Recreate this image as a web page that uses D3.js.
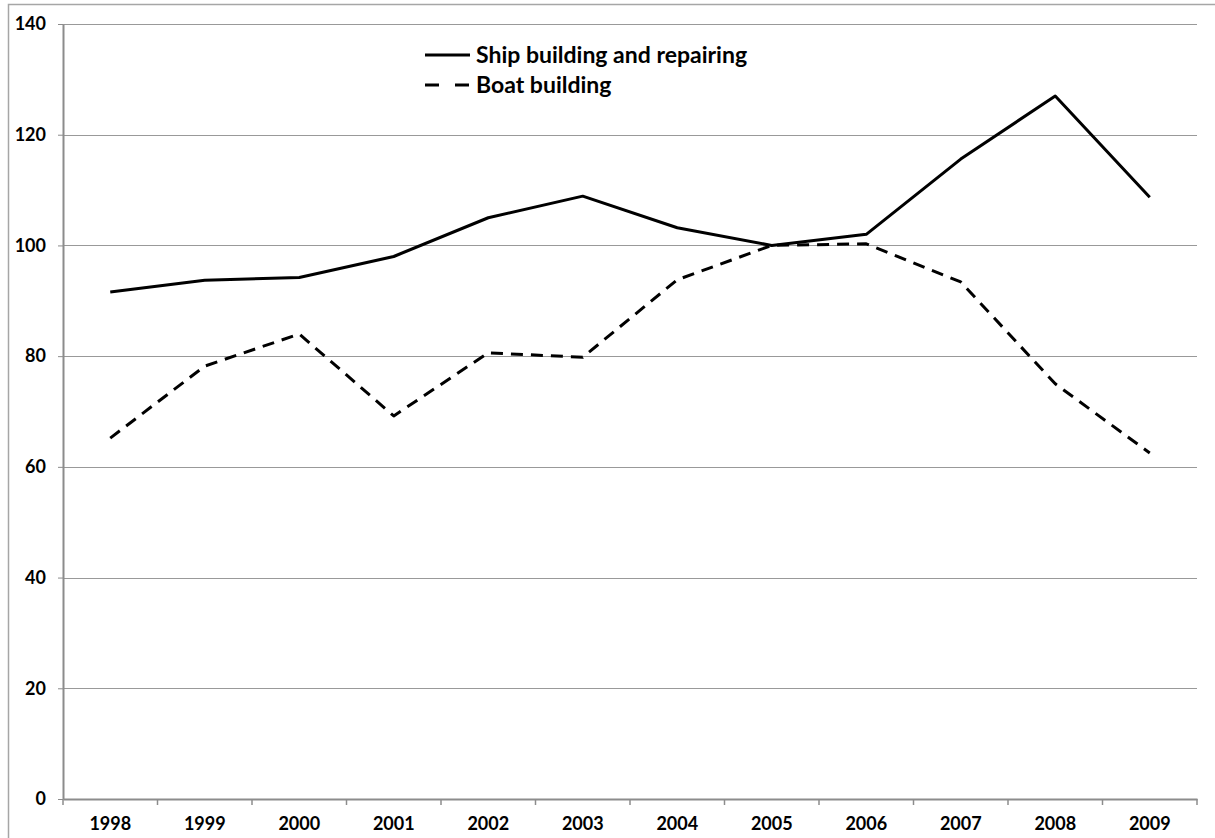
<!DOCTYPE html>
<html>
<head>
<meta charset="utf-8">
<script src="https://cdn.jsdelivr.net/npm/d3@7"></script>
<style>
  body { margin: 0; background: #fff; }
  svg { display: block; font-family: Lato, "Open Sans", sans-serif; font-weight: bold; }
</style>
</head>
<body>
<div class="svg"></div>
<script>
var years = ["1998", "1999", "2000", "2001", "2002", "2003", "2004", "2005", "2006", "2007", "2008", "2009"];
var shipBuilding = [91.6, 93.7, 94.2, 98.0, 105.0, 108.9, 103.2, 100.0, 102.0, 115.6, 127.0, 108.7];
var boatBuilding = [65.2, 78.2, 84.0, 69.2, 80.6, 79.8, 93.8, 100.0, 100.3, 93.4, 75.0, 62.5];
var yTicks = [0, 20, 40, 60, 80, 100, 120, 140];

var series = [
  {name: "Ship building and repairing", values: shipBuilding, dash: null},
  {name: "Boat building", values: boatBuilding, dash: "12,8"}
];

var svgW = 1215, svgH = 838,
  margin = {top: 24, right: 18, bottom: 39, left: 63},
  width = svgW - margin.left - margin.right,
  height = svgH - margin.top - margin.bottom;

var svg = d3.select(".svg").append("svg")
  .attr("width", svgW)
  .attr("height", svgH);

// Outer chart border
svg.append("path")
  .attr("d", "M8.5," + svgH + "V4.5H" + svgW)
  .attr("fill", "none")
  .attr("stroke", "#a6a6a6")
  .attr("stroke-width", 1.5);

var g = svg.append("g")
  .attr("transform", "translate(" + margin.left + "," + margin.top + ")");

var xScale = d3.scaleBand().domain(years).range([0, width]),
  yScale = d3.scaleLinear().domain([0, 140]).range([height, 0]);

// Gridlines
g.append("g")
  .selectAll("line")
  .data(yTicks.filter(d => d > 0)).enter().append("line")
    .attr("x1", 0)
    .attr("x2", width)
    .attr("y1", d => Math.round(yScale(d)) + 0.5)
    .attr("y2", d => Math.round(yScale(d)) + 0.5)
    .attr("stroke", "#999")
    .attr("stroke-width", 1);

// Y axis
var yAxis = g.append("g")
  .call(d3.axisLeft(yScale).tickValues(yTicks).tickSize(5).tickPadding(12).tickSizeOuter(0));
yAxis.select(".domain").attr("stroke", "#8c8c8c").attr("stroke-width", 2);
yAxis.selectAll(".tick line").attr("stroke", "#8c8c8c");
yAxis.selectAll(".tick text")
  .attr("fill", "#000")
  .style("font-size", "18px")
  .style("font-family", "Lato, sans-serif")
  .style("font-weight", "bold");

// X axis with ticks on band edges
var xAxis = g.append("g")
  .attr("transform", "translate(0," + height + ")")
  .call(d3.axisBottom(xScale).tickSize(0).tickPadding(18).tickSizeOuter(0));
xAxis.select(".domain").attr("stroke", "#8c8c8c").attr("stroke-width", 2);
xAxis.selectAll(".tick text")
  .attr("fill", "#000")
  .style("font-size", "18px")
  .style("font-family", "Lato, sans-serif")
  .style("font-weight", "bold");
xAxis.selectAll("line.edge")
  .data(years.concat(["end"])).enter().append("line")
    .attr("class", "edge")
    .attr("x1", (d, i) => i * xScale.step())
    .attr("x2", (d, i) => i * xScale.step())
    .attr("y1", 0)
    .attr("y2", 6)
    .attr("stroke", "#8c8c8c")
    .attr("stroke-width", 1.5);

// Draw lines
var line = d3.line()
  .x((d, i) => xScale(years[i]) + xScale.bandwidth() / 2)
  .y(d => yScale(d));

series.forEach(function(s) {
  g.append("path")
    .datum(s.values)
    .attr("fill", "none")
    .attr("stroke", "#000")
    .attr("stroke-width", 3)
    .attr("stroke-linejoin", "round")
    .attr("stroke-dasharray", s.dash)
    .attr("d", line);
});

// Legend
var legend = svg.append("g")
  .attr("transform", "translate(425,55)");
series.forEach(function(s, i) {
  var row = legend.append("g").attr("transform", "translate(0," + (i * 30) + ")");
  row.append("line")
    .attr("x1", 0).attr("x2", 45)
    .attr("stroke", "#000")
    .attr("stroke-width", 3)
    .attr("stroke-dasharray", s.dash ? "14,16" : null);
  row.append("text")
    .attr("x", 51)
    .attr("dy", "0.35em")
    .style("font-size", "23px")
    .text(s.name);
});
</script>
</body>
</html>
